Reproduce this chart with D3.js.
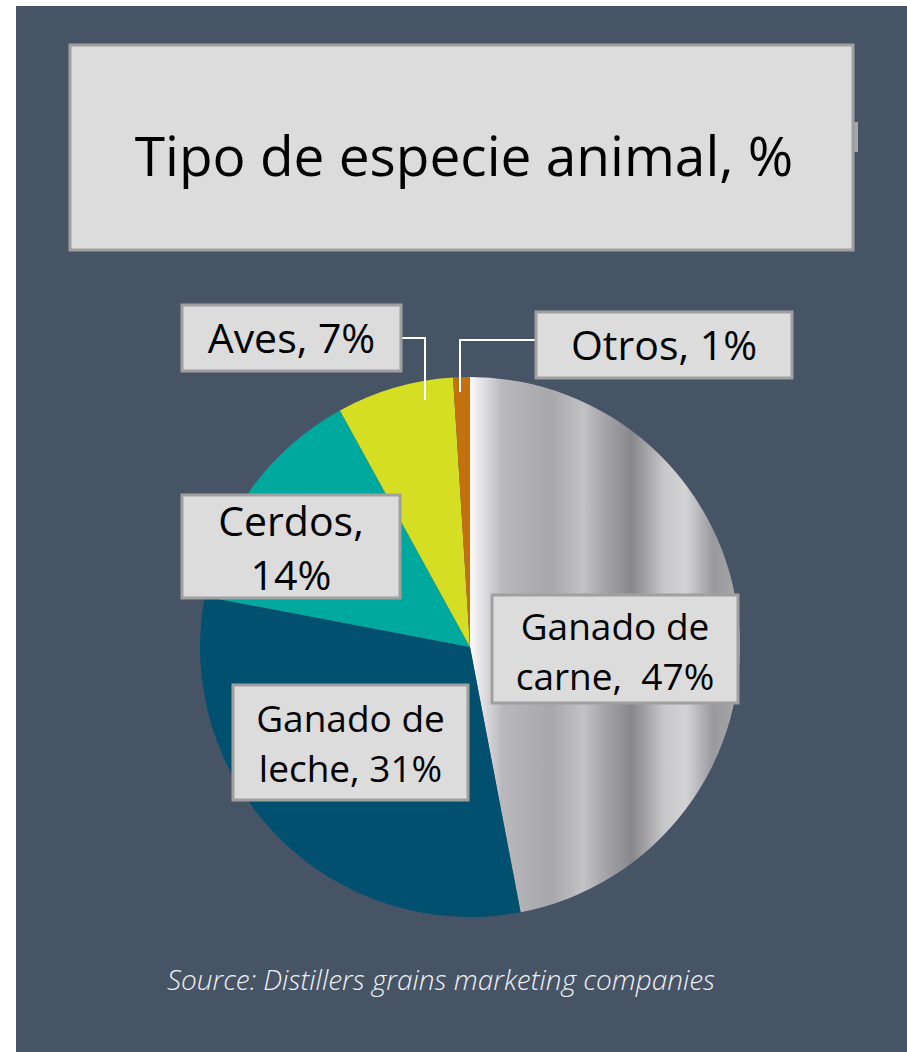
<!DOCTYPE html>
<html>
<head>
<meta charset="utf-8">
<script src="https://cdn.jsdelivr.net/npm/d3@7"></script>
<style>
  body { margin: 0; background: #ffffff; }
  svg { display: block; }
</style>
</head>
<body>
<div id="chart"></div>
<script>
// data
var categories = ["Ganado de carne", "Ganado de leche", "Cerdos", "Aves", "Otros"];
var values = [47, 31, 14, 7, 1];
var labelLines = [["Ganado de", "carne,  47%"], ["Ganado de", "leche, 31%"], ["Cerdos,", "14%"], ["Aves, 7%"], ["Otros, 1%"]];
var colors = ["url(#metal)", "#01506f", "#00a99d", "#d6de23", "#c3700f"];

var W = 907, H = 1052;
var cx = 470, cy = 647, R = 270;

// label boxes (layout only): box, first baseline, line height, font size
var boxes = [
  {x: 492, y: 595, w: 246, h: 108, base: 640, lh: 50, fs: 37, leader: null},
  {x: 233, y: 685, w: 235, h: 115, base: 732, lh: 50, fs: 37, leader: null},
  {x: 182, y: 495, w: 218, h: 103, base: 536, lh: 54, fs: 41, leader: null},
  {x: 182, y: 305, w: 219, h: 66, base: 353, lh: 0, fs: 41, leader: [[401, 338], [425, 338], [425, 400]]},
  {x: 536, y: 312, w: 256, h: 66, base: 360, lh: 0, fs: 41, leader: [[536, 340], [460, 340], [460, 392]]}
];

var svg = d3.select("#chart").append("svg")
  .attr("width", W)
  .attr("height", H);

// metallic fill for the big slice (coords are local to the pie group)
var defs = svg.append("defs");
var grad = defs.append("linearGradient")
  .attr("id", "metal")
  .attr("gradientUnits", "userSpaceOnUse")
  .attr("x1", 0).attr("y1", 0)
  .attr("x2", R).attr("y2", 0);
[[0, "#fbfbfb"], [0.04, "#e4e4e6"], [0.12, "#b9b9bd"], [0.3, "#a8a8ac"], [0.42, "#c2c2c5"], [0.5, "#a5a5a9"],
 [0.6, "#88888c"], [0.72, "#c8c8cb"], [0.8, "#d3d3d6"], [0.9, "#9a9a9e"], [1, "#a8a8ab"]].forEach(function(s){
  grad.append("stop").attr("offset", s[0]).attr("stop-color", s[1]);
});

// panel
svg.append("rect")
  .attr("x", 16).attr("y", 6)
  .attr("width", W - 16).attr("height", H - 6)
  .attr("fill", "#475466");

// title box
svg.append("rect")
  .attr("x", 853).attr("y", 122)
  .attr("width", 5).attr("height", 30)
  .attr("fill", "#a3a6ad");
svg.append("rect")
  .attr("x", 70).attr("y", 45)
  .attr("width", 783).attr("height", 205)
  .attr("fill", "#dcdcdc")
  .attr("stroke", "#a0a0a0")
  .attr("stroke-width", 3);
svg.append("text")
  .attr("x", 464).attr("y", 176)
  .attr("text-anchor", "middle")
  .attr("font-family", "'Open Sans', sans-serif")
  .attr("font-size", 55)
  .attr("fill", "#000")
  .text("Tipo de especie animal, %");

// pie
var pie = d3.pie().sort(null).value(function(d){ return d; });
var arc = d3.arc().innerRadius(0).outerRadius(R);
var arcs = pie(values);

var g = svg.append("g").attr("transform", "translate(" + cx + "," + cy + ")");
g.selectAll("path")
  .data(arcs)
  .enter()
  .append("path")
  .attr("d", arc)
  .attr("fill", function(d, i){ return colors[i]; });

// leader lines
boxes.forEach(function(b){
  if (!b.leader) return;
  svg.append("polyline")
    .attr("points", b.leader.map(function(p){ return p.join(","); }).join(" "))
    .attr("fill", "none")
    .attr("stroke", "#ffffff")
    .attr("stroke-width", 2);
});

// label boxes
var lab = svg.selectAll(".lab")
  .data(categories)
  .enter()
  .append("g")
  .attr("class", "lab");

lab.append("rect")
  .attr("x", function(d, i){ return boxes[i].x; })
  .attr("y", function(d, i){ return boxes[i].y; })
  .attr("width", function(d, i){ return boxes[i].w; })
  .attr("height", function(d, i){ return boxes[i].h; })
  .attr("fill", "#dcdcdc")
  .attr("stroke", "#a0a0a0")
  .attr("stroke-width", 3);

lab.each(function(d, i){
  var b = boxes[i];
  var t = d3.select(this).append("text")
    .attr("text-anchor", "middle")
    .attr("font-family", "'Open Sans', sans-serif")
    .attr("font-size", b.fs)
    .attr("fill", "#000");
  labelLines[i].forEach(function(l, k){
    t.append("tspan")
      .attr("x", b.x + b.w / 2)
      .attr("y", b.base + k * b.lh)
      .attr("xml:space", "preserve")
      .text(l);
  });
});

// source
svg.append("text")
  .attr("x", 441).attr("y", 990)
  .attr("text-anchor", "middle")
  .attr("font-family", "'Open Sans', sans-serif")
  .attr("font-style", "italic")
  .attr("font-weight", 300)
  .attr("font-size", 28)
  .attr("fill", "#eef0f3")
  .text("Source: Distillers grains marketing companies");
</script>
</body>
</html>
